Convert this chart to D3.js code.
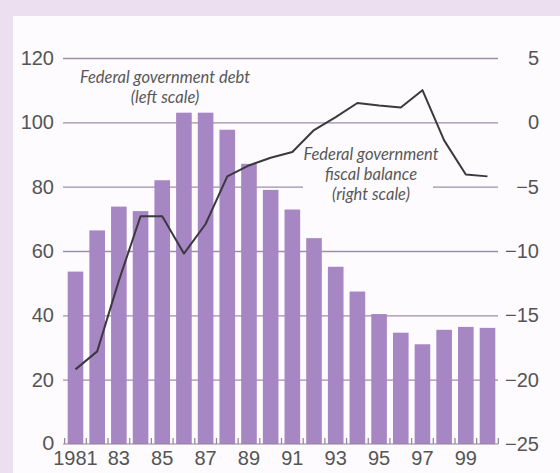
<!DOCTYPE html>
<html>
<head>
<meta charset="utf-8">
<script src="https://cdn.jsdelivr.net/npm/d3@7"></script>
<style>
  body { margin: 0; background: #ecdff0; }
  svg { display: block; font-family: Lato, 'Open Sans', sans-serif; }
  .axis text { fill: #555; font-size: 20px; }
  .axis .domain { display: none; }
  .grid line { stroke: #9d8fa8; stroke-width: 1.4; }
  .note { fill: #585858; font-size: 16.5px; font-style: italic; }
</style>
</head>
<body>
<div id="chart"></div>
<script>
const years = d3.range(1981, 2001)
const yearLabels = ['1981', '83', '85', '87', '89', '91', '93', '95', '97', '99']
// federal government debt, % of GDP (left scale)
const debt = [53.6, 66.4, 73.8, 72.4, 82, 103, 103, 97.7, 87.1, 79,
  72.9, 64, 55.1, 47.4, 40.4, 34.6, 31, 35.5, 36.4, 36.1]
// federal government fiscal balance, % of GDP (right scale)
const balance = [-19.2, -17.8, -12.3, -7.3, -7.3, -10.2, -7.9, -4.2, -3.35, -2.75,
  -2.3, -0.6, 0.4, 1.5, 1.3, 1.15, 2.5, -1.4, -4.05, -4.2]
const leftTicks = [0, 20, 40, 60, 80, 100, 120]
const rightTicks = [-25, -20, -15, -10, -5, 0, 5]

const width = 560
const height = 473
const plot = { left: 63, right: 498, top: 58, bottom: 444 }

const svg = d3.select('#chart').append('svg')
  .attr('width', width)
  .attr('height', height)

// white panel inside the lavender frame
svg.append('rect')
  .attr('x', 13).attr('y', 16)
  .attr('width', width - 13).attr('height', height - 16)
  .attr('fill', '#fdfbfd')

const x = d3.scaleBand()
  .domain(years)
  .range([plot.left + 2, plot.right])
  .paddingInner(0.28)
  .paddingOuter(0.124)

const yLeft = d3.scaleLinear().domain([0, 120]).range([plot.bottom, plot.top])
const yRight = d3.scaleLinear().domain([-25, 5]).range([plot.bottom, plot.top])

// gridlines + left labels
svg.append('g')
  .attr('class', 'axis grid')
  .attr('transform', `translate(${plot.left}, 0)`)
  .call(d3.axisLeft(yLeft).tickValues(leftTicks.slice(1))
    .tickSize(-(plot.right - plot.left)).tickPadding(9))
  .call(g => g.select('.domain').remove())

svg.append('text')
  .attr('x', plot.left - 9).attr('y', yLeft(0))
  .attr('dy', '0.32em').attr('text-anchor', 'end')
  .attr('fill', '#555').attr('font-size', 20)
  .text('0')

// right labels
svg.append('g')
  .attr('class', 'axis')
  .attr('transform', `translate(${plot.right}, 0)`)
  .call(d3.axisRight(yRight).tickValues(rightTicks).tickSize(0)
    .tickFormat(d => d < 0 ? '\u2212' + Math.abs(d) : d))
  .call(g => g.selectAll('text').attr('x', 41).attr('text-anchor', 'end'))

// gap in the -5 gridline behind the balance note
svg.append('rect')
  .attr('x', 303).attr('y', yRight(-5) - 4)
  .attr('width', 130).attr('height', 8)
  .attr('fill', '#fdfbfd')

// bars
svg.append('g')
  .selectAll('rect')
  .data(debt)
  .join('rect')
  .attr('x', (d, i) => x(years[i]))
  .attr('y', d => yLeft(d))
  .attr('width', x.bandwidth())
  .attr('height', d => yLeft(0) - yLeft(d))
  .attr('fill', '#a686c3')

// baseline with little ticks between the bars
const base = svg.append('g').attr('stroke', '#8f8299').attr('stroke-width', 1.2)
base.append('line')
  .attr('x1', plot.left).attr('x2', plot.right)
  .attr('y1', yLeft(0)).attr('y2', yLeft(0))
const bounds = years.map(d => x(d) + x.bandwidth() / 2 - x.step() / 2)
bounds.push(x(years[years.length - 1]) + x.bandwidth() / 2 + x.step() / 2)
base.selectAll('.tk')
  .data(bounds)
  .join('line')
  .attr('x1', d => d).attr('x2', d => d)
  .attr('y1', yLeft(0)).attr('y2', yLeft(0) - 6)

// year labels
svg.append('g')
  .attr('class', 'axis')
  .attr('transform', `translate(0, ${plot.bottom})`)
  .call(d3.axisBottom(x).tickSize(0).tickPadding(7)
    .tickValues(years.filter((d, i) => i % 2 === 0))
    .tickFormat((d, i) => yearLabels[i]))
  .call(g => g.selectAll('text').attr('font-size', 16))

// balance line
const line = d3.line()
  .x((d, i) => x(years[i]) + x.bandwidth() / 2)
  .y(d => yRight(d))

svg.append('path')
  .datum(balance)
  .attr('d', line)
  .attr('fill', 'none')
  .attr('stroke', '#3b3840')
  .attr('stroke-width', 2)
  .attr('stroke-linejoin', 'round')

// annotations
const notes = [
  { lines: ['Federal government debt', '(left scale)'], x: 165, y: 83 },
  { lines: ['Federal government', 'fiscal balance', '(right scale)'], x: 371, y: 160 }
]
notes.forEach(n => {
  svg.append('text')
    .attr('class', 'note')
    .attr('text-anchor', 'middle')
    .selectAll('tspan')
    .data(n.lines)
    .join('tspan')
    .attr('x', n.x)
    .attr('y', (d, i) => n.y + i * 20)
    .text(d => d)
})
</script>
</body>
</html>
